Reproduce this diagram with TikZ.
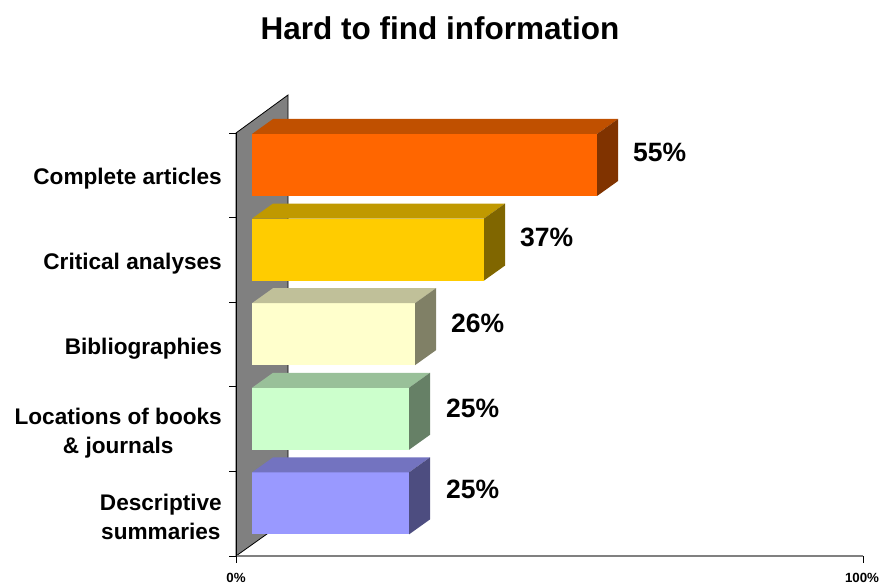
\documentclass[tikz,border=0pt]{standalone}
\usepackage{fontspec}
\setmainfont{Liberation Sans}
\definecolor{orF}{HTML}{FF6600}\definecolor{orT}{HTML}{C05000}\definecolor{orS}{HTML}{803300}
\definecolor{yeF}{HTML}{FFCC00}\definecolor{yeT}{HTML}{C09900}\definecolor{yeS}{HTML}{806600}
\definecolor{crF}{HTML}{FFFFCC}\definecolor{crT}{HTML}{C0C099}\definecolor{crS}{HTML}{808066}
\definecolor{grF}{HTML}{CCFFCC}\definecolor{grT}{HTML}{99C099}\definecolor{grS}{HTML}{668066}
\definecolor{blF}{HTML}{9999FF}\definecolor{blT}{HTML}{7373C0}\definecolor{blS}{HTML}{4D4D80}
\definecolor{wallgray}{HTML}{808080}
\tikzset{
  catlabel/.style={anchor=east,align=center,font=\bfseries\fontsize{22.6}{28.5}\selectfont,inner sep=0pt},
  pctlabel/.style={anchor=west,font=\bfseries\fontsize{26.5}{30}\selectfont,inner sep=0pt},
  axlabel/.style={anchor=center,font=\bfseries\fontsize{13.3}{15}\selectfont,inner sep=0pt},
}
\newcommand{\mybar}[5]{% top y, right x, front, top, side
  \fill[#3] (252,#1) rectangle (#2,#1+62);
  \fill[#4] (252,#1) -- (273,#1-15) -- (#2+21,#1-15) -- (#2,#1) -- cycle;
  \fill[#5] (#2,#1) -- (#2+21,#1-15) -- (#2+21,#1+47) -- (#2,#1+62) -- cycle;
}
\begin{document}
\begin{tikzpicture}[x=1pt,y=-1pt]
\useasboundingbox (0,0) rectangle (880,585);
\node[font=\bfseries\fontsize{31.5}{36}\selectfont,inner sep=0pt] (title) at (440,28) {Hard to find information};
% wall
\filldraw[fill=wallgray,draw=black,line width=0.8pt] (236,133) -- (288,95) -- (288,519) -- (236,556) -- cycle;
% floor line
\draw[wallgray,line width=2pt] (236,556) -- (863,556);
\draw[black,line width=1pt] (236,133) -- (236,556);
% ticks
\foreach \t in {133,217.6,302.2,386.8,471.4,556} \draw[black,line width=0.8pt] (229,\t) -- (236,\t);
\draw[black,line width=0.8pt] (236,556) -- (236,563);
\draw[black,line width=0.8pt] (863,556) -- (863,563);
% bars
\mybar{134}{597}{orF}{orT}{orS}
\mybar{218.6}{484}{yeF}{yeT}{yeS}
\mybar{303.2}{415}{crF}{crT}{crS}
\mybar{387.8}{409}{grF}{grT}{grS}
\mybar{472.4}{409}{blF}{blT}{blS}
% percent labels
\node[pctlabel] (p1) at (633,152) {55\%};
\node[pctlabel] (p2) at (520,237) {37\%};
\node[pctlabel] (p3) at (451,323) {26\%};
\node[pctlabel] (p4) at (446,408) {25\%};
\node[pctlabel] (p5) at (446,489) {25\%};
% category labels
\node[catlabel] (c1) at (222,179) {Complete articles};
\node[catlabel] (c2) at (222,264) {Critical analyses};
\node[catlabel] (c3) at (222,349) {Bibliographies};
\node[catlabel] (c4) at (222,433) {Locations of books\\\& journals};
\node[catlabel] (c5) at (222,517) {Descriptive\\summaries};
% axis labels
\node[axlabel] (a0) at (236,578) {0\%};
\node[axlabel] (a100) at (862,578) {100\%};
\end{tikzpicture}
\end{document}
